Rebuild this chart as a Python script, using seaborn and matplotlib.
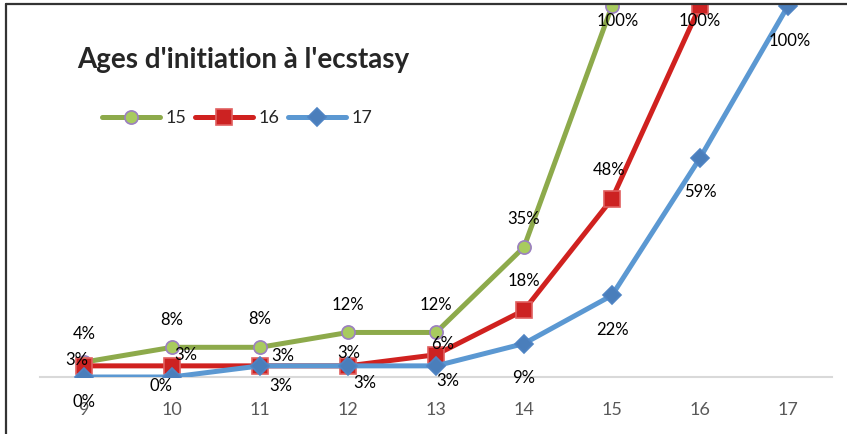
import numpy as np
import pandas as pd
import matplotlib
matplotlib.use("Agg")
import matplotlib.pyplot as plt
import seaborn as sns
from matplotlib.lines import Line2D

# Data (share of initiated users by age, per age group)
ages = [9, 10, 11, 12, 13, 14, 15, 16, 17]
vals_15 = [0.04, 0.08, 0.08, 0.12, 0.12, 0.35, 1.00]
vals_16 = [0.03, 0.03, 0.03, 0.03, 0.06, 0.18, 0.48, 1.00]
vals_17 = [0.00, 0.00, 0.03, 0.03, 0.03, 0.09, 0.22, 0.59, 1.00]
series_names = ["15", "16", "17"]

rows = []
for name, vals in zip(series_names, [vals_15, vals_16, vals_17]):
    for a, v in zip(ages, vals):
        rows.append({"age": a, "share": v, "groupe": name})
df = pd.DataFrame(rows)

# Styles
colors = {"15": "#8DAA4B", "16": "#D0211F", "17": "#5B98D2"}
markers = {"15": "o", "16": "s", "17": "D"}
mfc = {"15": "#A8CB5E", "16": "#CC2222", "17": "#4A7EBB"}
mec = {"15": "#9B7FC0", "16": "#E06060", "17": "#4F84C4"}
msize = {"15": 9.5, "16": 11.5, "17": 9}

# label offsets in pixels (dx, dy)
offsets = {
    "15": [(0, 28), (0, 27), (0, 28), (0, 27), (0, 27), (0, 28), (6, -15)],
    "16": [(-7, 6), (14, 11), (23, 10), (1, 13), (7, 11), (0, 29), (-3, 29), (0, -15)],
    "17": [(0, -25), (-11, -9), (21, -20), (17, -17), (12, -15), (0, -34), (0, -35), (0, -34), (2, -35)],
}

sns.set_style("white")
plt.rcParams["font.family"] = ["Lato", "DejaVu Sans"]

fig = plt.figure(figsize=(8.47, 4.34), dpi=100)
W, H = 847, 434
ax = fig.add_axes([40 / W, (H - 377) / H, (832 - 40) / W, (377 - 4) / H])

for name in series_names:
    sub = df[df["groupe"] == name]
    sns.lineplot(data=sub, x="age", y="share", ax=ax, color=colors[name],
                 lw=3.6, marker=markers[name], markersize=msize[name],
                 markerfacecolor=mfc[name], markeredgecolor=mec[name],
                 markeredgewidth=1.2, label=name, zorder=3)
    for (a, v), (dx, dy) in zip(zip(sub["age"], sub["share"]), offsets[name]):
        ax.annotate(f"{round(v * 100):d}%", (a, v), xytext=(dx, dy),
                    textcoords="offset pixels", ha="center", va="center",
                    fontsize=12, color="black", zorder=5)

ax.set_xlim(8.5, 17.5)
ax.set_ylim(0, 1.005)
ax.set_xlabel("")
ax.set_ylabel("")
ax.set_yticks([])
ax.set_xticks(ages)
ax.set_xticklabels([str(a) for a in ages])
ax.set_xticks(np.arange(8.5, 17, 1), minor=True)
ax.tick_params(axis="x", which="major", length=0, pad=18, labelsize=13, labelcolor="#595959")
ax.tick_params(axis="x", which="minor", length=6, width=1.5, color="#D9D9D9", direction="out")
for s in ["top", "left", "right"]:
    ax.spines[s].set_visible(False)
ax.spines["bottom"].set_color("#D9D9D9")
ax.spines["bottom"].set_linewidth(1.5)
ax.patch.set_alpha(0)

ax.legend(loc="upper left", bbox_to_anchor=((95 - 40) / (832 - 40), (377 - 103) / 373),
          ncol=3, frameon=False, fontsize=13, handlelength=3.2, handletextpad=0.3,
          columnspacing=0.5, borderaxespad=0)

fig.text(77 / W, 1 - 60 / H, "Ages d'initiation à l'ecstasy", fontsize=20,
         fontweight="bold", ha="left", va="center")

# outer border of the original chart frame
fig.add_artist(Line2D([6 / W, 1], [1 - 4 / H, 1 - 4 / H], color="#333333", lw=1.6,
                      transform=fig.transFigure, zorder=10))
fig.add_artist(Line2D([6 / W, 6 / W], [0, 1 - 4 / H], color="#333333", lw=1.6,
                      transform=fig.transFigure, zorder=10))

fig.savefig("out.png", dpi=100)
